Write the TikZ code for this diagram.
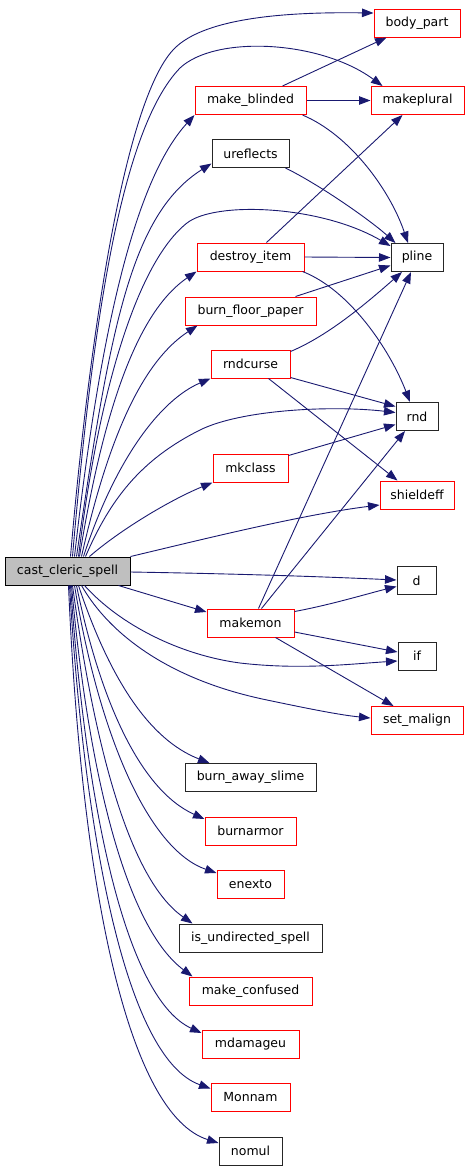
\documentclass[tikz,border=0pt]{standalone}
\usepackage{fontspec}
\setmainfont{DejaVu Sans}
\usetikzlibrary{arrows.meta,calc}
\definecolor{edgeblue}{RGB}{25,25,112}
\begin{document}
\begin{tikzpicture}[x=1pt,y=-1pt,
  box/.style={draw,line width=1pt,minimum height=28pt,inner sep=0pt,font=\fontsize{12.5}{15}\selectfont,anchor=center},
  redbox/.style={box,draw=red},
  blackbox/.style={box,draw=black!85},
  rootbox/.style={box,draw=black,fill=gray!50},
  edge/.style={draw=edgeblue,line width=0.9pt,-{Triangle[length=11.5pt,width=8.5pt]}}]
\useasboundingbox (0,0) rectangle (469,1171);
% nodes
\node[rootbox,minimum width=125pt] (cc) at (67.5,571) {cast\_cleric\_spell};
\node[redbox,minimum width=86pt] (body_part) at (417,23) {body\_part};
\node[redbox,minimum width=111pt] (make_blinded) at (250.5,100.5) {make\_blinded};
\node[redbox,minimum width=93pt] (makeplural) at (417.5,100.5) {makeplural};
\node[blackbox,minimum width=77pt] (ureflects) at (250.5,153.5) {ureflects};
\node[redbox,minimum width=107pt] (destroy_item) at (250.5,257) {destroy\_item};
\node[blackbox,minimum width=52pt] (pline) at (417,257.5) {pline};
\node[redbox,minimum width=131pt] (burn_floor_paper) at (250.5,311) {burn\_floor\_paper};
\node[redbox,minimum width=79pt] (rndcurse) at (250.5,364) {rndcurse};
\node[blackbox,minimum width=42pt] (rnd) at (417,416.5) {rnd};
\node[redbox,minimum width=75pt] (mkclass) at (250.5,468) {mkclass};
\node[redbox,minimum width=74pt] (shieldeff) at (417,495) {shieldeff};
\node[blackbox,minimum width=39pt] (d) at (416.5,580.5) {d};
\node[redbox,minimum width=87pt] (makemon) at (250.5,623) {makemon};
\node[blackbox,minimum width=38pt] (if) at (417,656) {if};
\node[redbox,minimum width=92pt] (set_malign) at (417,720.5) {set\_malign};
\node[blackbox,minimum width=131pt] (burn_away_slime) at (250.5,777.5) {burn\_away\_slime};
\node[redbox,minimum width=91pt] (burnarmor) at (250.5,831) {burnarmor};
\node[redbox,minimum width=67pt] (enexto) at (250.5,884) {enexto};
\node[blackbox,minimum width=143pt] (is_undirected_spell) at (250.5,938) {is\_undirected\_spell};
\node[redbox,minimum width=123pt] (make_confused) at (250.5,991) {make\_confused};
\node[redbox,minimum width=97pt] (mdamageu) at (250.5,1044) {mdamageu};
\node[redbox,minimum width=79pt] (Monnam) at (250.5,1097.5) {Monnam};
\node[blackbox,minimum width=63pt] (nomul) at (250.5,1151) {nomul};
% edges from cast_cleric_spell
\draw[edge] ($(cc.north)+(3,0)$) .. controls (90,330) and (125,102) .. (173,50) .. controls (205,15) and (300,12) .. ($(body_part.west)+(0,-10)$);
\draw[edge] ($(cc.north)+(5,0)$) .. controls (92,330) and (120,130) .. (180,68) .. controls (215,35) and (320,40) .. ($(makeplural.north west)+(12,0)$);
\draw[edge] ($(cc.north)+(7,0)$) .. controls (100,330) and (135,180) .. (make_blinded.south west);
\draw[edge] ($(cc.north)+(9,0)$) .. controls (110,330) and (130,215) .. ($(ureflects.west)+(0,10)$);
\draw[edge] ($(cc.north)+(11,0)$) .. controls (100,380) and (140,260) .. (187,223) .. controls (215,201) and (320,205) .. ($(pline.north west)+(0,3)$);
\draw[edge] ($(cc.north)+(12,0)$) .. controls (105,400) and (140,310) .. (destroy_item.south west);
\draw[edge] ($(cc.north)+(14,0)$) .. controls (110,430) and (145,360) .. ($(burn_floor_paper.south west)+(13,0)$);
\draw[edge] ($(cc.north)+(16,0)$) .. controls (115,460) and (160,400) .. (rndcurse.south west);
\draw[edge] ($(cc.north)+(18,0)$) .. controls (110,500) and (140,460) .. (200,430) .. controls (240,410) and (330,405) .. ($(rnd.west)+(0,-4)$);
\draw[edge] ($(cc.north)+(22,0)$) .. controls (120,530) and (170,500) .. (mkclass.south west);
\draw[edge] (cc.north east) .. controls (200,540) and (300,515) .. ($(shieldeff.west)+(0,10)$);
\draw[edge] ($(cc.east)+(0,1)$) .. controls (250,574) and (330,577) .. ($(d.west)+(0,-0.5)$);
\draw[edge] ($(cc.south east)+(-12,0)$) -- ($(makemon.west)+(0,-11)$);
\draw[edge] ($(cc.south)+(17,0)$) .. controls (120,625) and (180,655) .. (240,663) .. controls (300,670) and (350,664) .. ($(if.west)+(0,5)$);
\draw[edge] ($(cc.south)+(14,0)$) .. controls (110,635) and (170,680) .. (267,700) .. controls (310,709) and (340,715) .. ($(set_malign.west)+(0,-2.5)$);
\draw[edge] ($(cc.south)+(11,0)$) .. controls (110,680) and (150,740) .. ($(burn_away_slime.north west)+(25,0)$);
\draw[edge] ($(cc.south)+(9,0)$) .. controls (100,700) and (140,790) .. ($(burnarmor.west)+(0,-12)$);
\draw[edge] ($(cc.south)+(7,0)$) .. controls (100,740) and (150,850) .. ($(enexto.west)+(0,-11)$);
\draw[edge] ($(cc.south)+(5,0)$) .. controls (95,750) and (130,880) .. ($(is_undirected_spell.north west)+(14,0)$);
\draw[edge] ($(cc.south)+(4,0)$) .. controls (90,790) and (130,930) .. ($(make_confused.north west)+(4,0)$);
\draw[edge] ($(cc.south)+(3,0)$) .. controls (88,830) and (130,1000) .. ($(mdamageu.west)+(0,-11)$);
\draw[edge] ($(cc.south)+(2,0)$) .. controls (86,860) and (130,1060) .. ($(Monnam.west)+(0,-9)$);
\draw[edge] ($(cc.south)+(1,0)$) .. controls (82,900) and (130,1115) .. ($(nomul.west)+(0,-8)$);
% other edges
\draw[edge] ($(make_blinded.north east)+(-24,0)$) -- ($(body_part.south west)+(13,0)$);
\draw[edge] (make_blinded.east) -- (makeplural.west);
\draw[edge] ($(make_blinded.south east)+(-4,0)$) .. controls (350,135) and (390,190) .. ($(pline.north)+(-9,0)$);
\draw[edge] ($(ureflects.south east)+(-4,0)$) .. controls (320,185) and (370,220) .. ($(pline.north west)+(5,0)$);
\draw[edge] ($(destroy_item.north)+(16,0)$) -- ($(makeplural.south)+(-15,0)$);
\draw[edge] (destroy_item.east) -- (pline.west);
\draw[edge] ($(destroy_item.south east)+(-2,0)$) .. controls (350,290) and (390,350) .. ($(rnd.north)+(-7,0)$);
\draw[edge] ($(burn_floor_paper.north east)+(-21,0)$) -- ($(pline.west)+(0,8)$);
\draw[edge] ($(rndcurse.north east)+(0,2)$) .. controls (330,335) and (370,300) .. ($(pline.south)+(-15,0)$);
\draw[edge] ($(rndcurse.south east)+(0,-1)$) -- ($(rnd.west)+(0,-10)$);
\draw[edge] ($(rndcurse.south)+(18,0)$) -- ($(shieldeff.north west)+(18,0)$);
\draw[edge] ($(mkclass.north east)+(0,2)$) -- ($(rnd.west)+(0,8)$);
\draw[edge] ($(makemon.north)+(8,0)$) -- ($(pline.south)+(-6,0)$);
\draw[edge] ($(makemon.north)+(11,0)$) -- ($(rnd.south)+(-12,0)$);
\draw[edge] ($(makemon.north east)+(0,3)$) .. controls (330,605) and (370,593) .. ($(d.west)+(0,6)$);
\draw[edge] ($(makemon.east)+(0,9)$) -- ($(if.west)+(0,-4)$);
\draw[edge] ($(makemon.south)+(25,0)$) -- ($(set_malign.north west)+(23,0)$);
\end{tikzpicture}
\end{document}
